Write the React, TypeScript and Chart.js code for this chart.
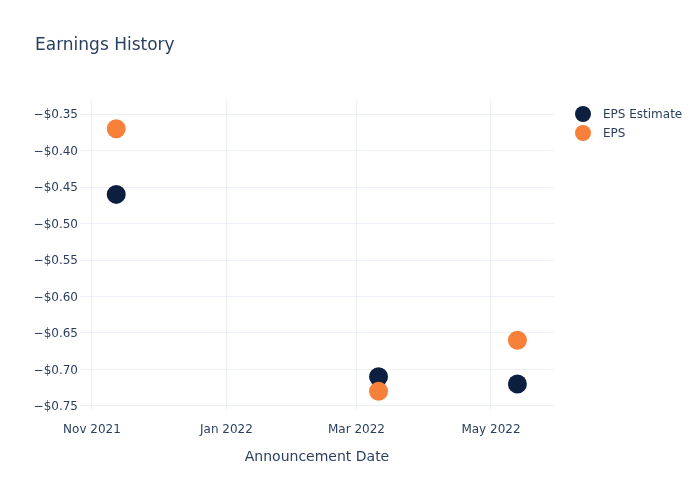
import React, { useEffect, useRef } from "react";
import { Chart, registerables } from "chart.js";

Chart.register(...registerables);

const DAY = 86400000;

const announceDates = ["2021-11-12", "2022-03-11", "2022-05-13"];
const epsEstimate = [-0.46, -0.71, -0.72];
const epsActual = [-0.37, -0.73, -0.66];

const xTickDates = ["2021-11-01", "2022-01-01", "2022-03-01", "2022-05-01"];
const xTickLabels = ["Nov 2021", "Jan 2022", "Mar 2022", "May 2022"];
const yTickValues = [-0.75, -0.7, -0.65, -0.6, -0.55, -0.5, -0.45, -0.4, -0.35];

const seriesNames = ["EPS Estimate", "EPS"];
const seriesColors = ["#0d1f3f", "#f7803a"];

const titleText = "Earnings History";
const xAxisTitle = "Announcement Date";

const FONT = "'DejaVu Sans', Verdana, sans-serif";
const TEXT = "#2a3f5f";
const GRID = "#ebf0f8";

const xMin = Date.parse("2021-11-01") - 5.44 * DAY;
const xMax = Date.parse("2021-11-01") + 209.6 * DAY;
const yMin = -0.7556;
const yMax = -0.3306;

function fmtMoney(v: number): string {
  const s = "$" + Math.abs(v).toFixed(2);
  return v < 0 ? "\u2212" + s : s;
}

const overlayPlugin = {
  id: "overlay",
  afterDraw(chart: any) {
    const ctx = chart.ctx;
    const area = chart.chartArea;
    ctx.save();
    // title
    ctx.fillStyle = TEXT;
    ctx.font = `17px ${FONT}`;
    ctx.textAlign = "left";
    ctx.textBaseline = "middle";
    ctx.fillText(titleText, 35, 46);
    // x axis title
    ctx.font = `14px ${FONT}`;
    ctx.textAlign = "center";
    ctx.fillText(xAxisTitle, (area.left + area.right) / 2, 457);
    // legend
    ctx.font = `12px ${FONT}`;
    ctx.textAlign = "left";
    chart.data.datasets.forEach((ds: any, i: number) => {
      const y = 114 + i * 19;
      ctx.beginPath();
      ctx.fillStyle = ds.backgroundColor;
      ctx.arc(583, y, 8, 0, Math.PI * 2);
      ctx.fill();
      ctx.fillStyle = TEXT;
      ctx.fillText(ds.label, 603, y + 1);
    });
    ctx.restore();
  },
};

export default function App() {
  const ref = useRef<HTMLCanvasElement | null>(null);

  useEffect(() => {
    if (!ref.current) return;
    const mk = (vals: number[]) =>
      announceDates.map((d, i) => ({ x: Date.parse(d), y: vals[i] }));
    const chart = new Chart(ref.current, {
      type: "scatter",
      data: {
        datasets: [
          {
            label: seriesNames[0],
            data: mk(epsEstimate),
            backgroundColor: seriesColors[0],
            borderWidth: 0,
            pointRadius: 9.5,
            pointHoverRadius: 9.5,
            order: 2,
          },
          {
            label: seriesNames[1],
            data: mk(epsActual),
            backgroundColor: seriesColors[1],
            borderWidth: 0,
            pointRadius: 9.5,
            pointHoverRadius: 9.5,
            order: 1,
          },
        ],
      },
      options: {
        responsive: false,
        animation: false,
        layout: { padding: { top: 100, right: 146, left: 0, bottom: 0 } },
        plugins: {
          legend: { display: false },
          title: { display: false },
          tooltip: { enabled: false },
        },
        scales: {
          x: {
            type: "linear",
            min: xMin,
            max: xMax,
            afterFit: (s: any) => {
              s.height = 90;
            },
            afterBuildTicks: (s: any) => {
              s.ticks = xTickDates.map((d) => ({ value: Date.parse(d) }));
            },
            grid: { color: GRID, drawTicks: false, lineWidth: 1 },
            border: { display: false },
            ticks: {
              color: TEXT,
              font: { family: FONT, size: 12 },
              padding: 13,
              maxRotation: 0,
              autoSkip: false,
              callback: (v: any) => {
                const idx = xTickDates.findIndex((d) => Date.parse(d) === v);
                return idx >= 0 ? xTickLabels[idx] : "";
              },
            },
          },
          y: {
            type: "linear",
            min: yMin,
            max: yMax,
            afterFit: (s: any) => {
              s.width = 80;
            },
            afterBuildTicks: (s: any) => {
              s.ticks = yTickValues.map((v) => ({ value: v }));
            },
            grid: { color: GRID, drawTicks: false, lineWidth: 1 },
            border: { display: false },
            ticks: {
              color: TEXT,
              font: { family: FONT, size: 12 },
              padding: 2,
              labelOffset: 1,
              autoSkip: false,
              callback: (v: any) => fmtMoney(Number(v)),
            },
          },
        },
      },
      plugins: [overlayPlugin],
    });
    return () => chart.destroy();
  }, []);

  return (
    <div style={{ position: "fixed", left: 0, top: 0, width: 700, height: 500, background: "#fff" }}>
      <canvas ref={ref} width={700} height={500} />
    </div>
  );
}
